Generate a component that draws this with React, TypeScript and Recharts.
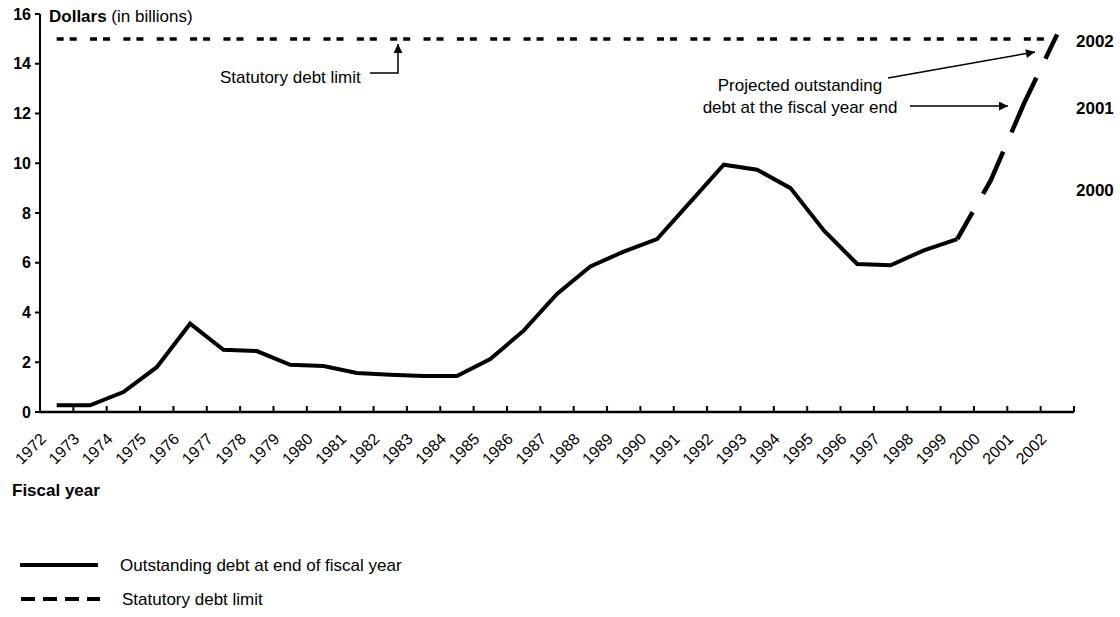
import React from "react";
import { Line, LineChart, XAxis, YAxis } from "recharts";

// fiscal years on the x axis
const years = [
  1972, 1973, 1974, 1975, 1976, 1977, 1978, 1979, 1980, 1981, 1982, 1983, 1984, 1985, 1986, 1987,
  1988, 1989, 1990, 1991, 1992, 1993, 1994, 1995, 1996, 1997, 1998, 1999, 2000, 2001, 2002,
];

// outstanding debt at end of fiscal year, 1972-1999 (billions)
const outstandingDebt = [
  0.27, 0.27, 0.8, 1.8, 3.55, 2.5, 2.45, 1.9, 1.85, 1.57, 1.5, 1.45, 1.45, 2.13, 3.27, 4.75, 5.85,
  6.45, 6.95, 8.45, 9.94, 9.74, 9.0, 7.3, 5.95, 5.9, 6.5, 6.95,
];

// projected outstanding debt, 1999-2002
const projectedYears = [1999, 2000, 2001, 2002];
const projectedDebt = [6.95, 9.3, 12.4, 15.2];

const statutoryLimit = 15;
const yTicks = [0, 2, 4, 6, 8, 10, 12, 14, 16];

const data = years.map((year, i) => {
  const p = projectedYears.indexOf(year);
  return {
    year,
    debt: i < outstandingDebt.length ? outstandingDebt[i] : null,
    projected: p >= 0 ? projectedDebt[p] : null,
    limit: statutoryLimit,
  };
});

// ticks sit on the edges between fiscal years
const xTicks = [...years.map((y) => y - 0.5), years[years.length - 1] + 0.5];

const FONT = "'Liberation Sans', Arial, Helvetica, sans-serif";

function YearTick(props: any) {
  const { x, y, payload } = props;
  const year = payload.value + 0.5;
  const label = year <= years[years.length - 1] ? String(year) : "";
  const lx = x + 7;
  const ly = y + 28;
  return (
    <g>
      <line x1={x} y1={y} x2={x} y2={y - 6} stroke="#000" strokeWidth={2} />
      {label && (
        <text x={lx} y={ly} transform={`rotate(-45 ${lx} ${ly})`} textAnchor="end" fontSize={16} fill="#000" fontFamily={FONT}>
          {label}
        </text>
      )}
    </g>
  );
}

export default function App() {
  return (
    <div style={{ position: "absolute", left: 0, top: 0, width: 1120, height: 617, background: "#fff", fontFamily: FONT }}>
      <LineChart width={1120} height={617} data={data} margin={{ top: 14, right: 46, left: 0, bottom: 175 }}>
        <XAxis
          dataKey="year"
          type="number"
          domain={[xTicks[0], xTicks[xTicks.length - 1]]}
          ticks={xTicks}
          interval={0}
          tickSize={0}
          tickMargin={0}
          tickLine={false}
          axisLine={{ stroke: "#000", strokeWidth: 2.5 }}
          tick={<YearTick />}
          height={30}
        />
        <YAxis
          domain={[0, 16]}
          ticks={yTicks}
          interval={0}
          width={40}
          tickSize={5}
          tickMargin={4}
          axisLine={{ stroke: "#000", strokeWidth: 2 }}
          tickLine={{ stroke: "#000", strokeWidth: 2 }}
          tick={{ fill: "#000", fontSize: 16, fontWeight: "bold", fontFamily: FONT }}
        />
        <Line dataKey="limit" stroke="#000" strokeWidth={3.5} strokeDasharray="7 6 7 13.35" dot={false} isAnimationActive={false} />
        <Line dataKey="debt" stroke="#000" strokeWidth={4} dot={false} isAnimationActive={false} connectNulls={false} />
        <Line
          dataKey="projected"
          stroke="#000"
          strokeWidth={4.5}
          strokeDasharray="31 21 47 21 60 21 27"
          dot={false}
          isAnimationActive={false}
          connectNulls={false}
        />
      </LineChart>

      <svg width={1120} height={617} style={{ position: "absolute", left: 0, top: 0, pointerEvents: "none" }} fontFamily={FONT}>
        <defs>
          <marker id="ah2" viewBox="0 0 10 10" refX="10" refY="5" markerWidth="12" markerHeight="9" markerUnits="userSpaceOnUse" orient="auto">
            <path d="M0,0 L10,5 L0,10 z" fill="#000" />
          </marker>
        </defs>

        <text x={49} y={22} fontSize={17} fill="#000">
          <tspan fontWeight="bold">Dollars</tspan>
          <tspan> (in billions)</tspan>
        </text>

        <text x={220} y={83} fontSize={17} fill="#000">Statutory debt limit</text>
        <polyline points="370,73 398,73 398,44" fill="none" stroke="#000" strokeWidth={1.5} markerEnd="url(#ah2)" />

        <text x={800} y={91} fontSize={17} fill="#000" textAnchor="middle">Projected outstanding</text>
        <text x={800} y={113} fontSize={17} fill="#000" textAnchor="middle">debt at the fiscal year end</text>
        <line x1={888} y1={78} x2={1035} y2={52} stroke="#000" strokeWidth={1.5} markerEnd="url(#ah2)" />
        <line x1={910} y1={106} x2={1008} y2={106} stroke="#000" strokeWidth={1.5} markerEnd="url(#ah2)" />

        <text x={1076} y={47} fontSize={17} fontWeight="bold" fill="#000">2002</text>
        <text x={1076} y={114} fontSize={17} fontWeight="bold" fill="#000">2001</text>
        <text x={1076} y={196} fontSize={17} fontWeight="bold" fill="#000">2000</text>

        <text x={12} y={496} fontSize={17} fontWeight="bold" fill="#000">Fiscal year</text>

        <line x1={20} y1={565} x2={98} y2={565} stroke="#000" strokeWidth={4} />
        <text x={120} y={571} fontSize={17} fill="#000">Outstanding debt at end of fiscal year</text>
        <line x1={21} y1={599} x2={100} y2={599} stroke="#000" strokeWidth={4} strokeDasharray="14 8" />
        <text x={122} y={605} fontSize={17} fill="#000">Statutory debt limit</text>
      </svg>
    </div>
  );
}
